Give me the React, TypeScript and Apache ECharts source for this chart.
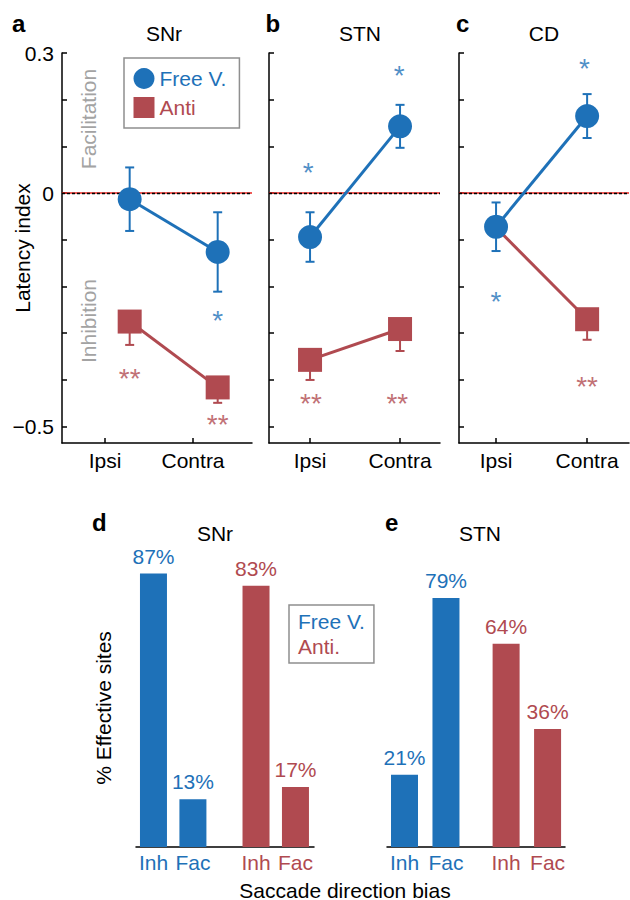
import React, { useEffect, useRef } from 'react';
import * as echarts from 'echarts';

const BLUE = '#1e71b8';
const RED = '#b04a50';
const GRAY_TEXT = '#a3a3a3';
const FONT = '"Liberation Sans", Arial, Helvetica, sans-serif';

// ---------- panels a–c : latency index ----------
const sideNames = ['Ipsi', 'Contra'];
const sideTicks = [1, 2];
const latencyTicks = [0.3, 0.2, 0.1, 0, -0.1, -0.2, -0.3, -0.4, -0.5];
const latencyTickLabels = [0.3, 0, -0.5];

// SNr
const xSNr = [1.28, 2.28];
const freeSNr = [-0.013, -0.126];
const freeErrSNr = [0.068, 0.085];
const antiSNr = [-0.275, -0.416];
const antiErrSNr = [0.05, 0.033];
const freeStarsSNr = [[2.28, -0.259]];
const antiStarsSNr = [[1.28, -0.385], [2.28, -0.482]];

// STN
const xSTN = [1, 2];
const freeSTN = [-0.094, 0.143];
const freeErrSTN = [0.053, 0.046];
const antiSTN = [-0.357, -0.291];
const antiErrSTN = [0.043, 0.047];
const freeStarsSTN = [[0.98, 0.058], [1.99, 0.265]];
const antiStarsSTN = [[1.01, -0.437], [1.97, -0.437]];

// CD (the Anti ipsi point lies under the Free V. marker)
const xCD = [1, 2];
const freeCD = [-0.072, 0.165];
const freeErrCD = [0.052, 0.047];
const antiCD = [-0.074, -0.27];
const antiErrCD = [0, 0.044];
const freeStarsCD = [[1, -0.22], [1.97, 0.28]];
const antiStarsCD = [[2, -0.402]];

// ---------- panels d–e : % effective sites ----------
const biasNames = ['Inh', 'Fac', 'Inh', 'Fac'];
const barSlotsSNr = [1, 2, 3.6, 4.6];
const barSlotsSTN = [1, 2, 3.45, 4.45];
const freeSitesSNr = [87, 13];
const antiSitesSNr = [83, 17];
const freeSitesSTN = [21, 79];
const antiSitesSTN = [64, 36];

// ---------- layout ----------
const topPanels = [
  { left: 62, width: 190, xmin: 0.511, xmax: 2.67, hiddenAnti: [] as number[], x: xSNr, free: freeSNr, freeErr: freeErrSNr, anti: antiSNr, antiErr: antiErrSNr, fs: freeStarsSNr, as: antiStarsSNr },
  { left: 269, width: 171, xmin: 0.544, xmax: 2.444, hiddenAnti: [] as number[], x: xSTN, free: freeSTN, freeErr: freeErrSTN, anti: antiSTN, antiErr: antiErrSTN, fs: freeStarsSTN, as: antiStarsSTN },
  { left: 459, width: 170, xmin: 0.593, xmax: 2.46, hiddenAnti: [0], x: xCD, free: freeCD, freeErr: freeErrCD, anti: antiCD, antiErr: antiErrCD, fs: freeStarsCD, as: antiStarsCD },
];
const bottomPanels = [
  { left: 136, width: 178, xmin: 0.557, xmax: 5.07, slots: barSlotsSNr, free: freeSitesSNr, anti: antiSitesSNr },
  { left: 387, width: 178, xmin: 0.578, xmax: 4.87, slots: barSlotsSTN, free: freeSitesSTN, anti: antiSitesSTN },
];

const axisLineStyle = { color: '#000', width: 1.5 };

function errorSeries(idx: number, xs: number[], ys: number[], errs: number[], color: string, both: boolean) {
  return {
    type: 'custom',
    xAxisIndex: idx,
    yAxisIndex: idx,
    z: 2,
    silent: true,
    data: xs.map((x, i) => [x, ys[i], errs[i]]),
    renderItem: (params: any, api: any) => {
      const x = api.value(0);
      const y = api.value(1);
      const e = api.value(2);
      if (!e) return { type: 'group', children: [] };
      const lo = api.coord([x, y - e]);
      const hi = api.coord([x, both ? y + e : y]);
      const cap = 4.5;
      const style = { stroke: color, lineWidth: 2 };
      const children: any[] = [
        { type: 'line', shape: { x1: lo[0], y1: lo[1], x2: hi[0], y2: hi[1] }, style },
        { type: 'line', shape: { x1: lo[0] - cap, y1: lo[1], x2: lo[0] + cap, y2: lo[1] }, style },
      ];
      if (both) {
        children.push({ type: 'line', shape: { x1: hi[0] - cap, y1: hi[1], x2: hi[0] + cap, y2: hi[1] }, style });
      }
      return { type: 'group', children };
    },
  };
}

function starSeries(idx: number, pts: number[][], text: string, color: string) {
  return {
    type: 'scatter',
    xAxisIndex: idx,
    yAxisIndex: idx,
    z: 5,
    silent: true,
    symbol: 'circle',
    symbolSize: 1,
    itemStyle: { color: 'rgba(0,0,0,0)' },
    data: pts,
    label: {
      show: true,
      position: 'inside',
      formatter: text,
      color,
      fontSize: 28,
      fontFamily: FONT,
      offset: [0, 6],
    },
  };
}

function txt(text: string, x: number, y: number, opts: any = {}) {
  return {
    type: 'text',
    x,
    y,
    rotation: opts.rotation || 0,
    silent: true,
    style: {
      text,
      fill: opts.color || '#000',
      fontSize: opts.fontSize || 21,
      fontWeight: opts.fontWeight || 'normal',
      fontFamily: FONT,
      align: opts.align || 'center',
      verticalAlign: 'middle',
    },
  };
}

function buildOption() {
  const grid: any[] = [];
  const xAxis: any[] = [];
  const yAxis: any[] = [];
  const series: any[] = [];

  topPanels.forEach((p, i) => {
    grid.push({ left: p.left, width: p.width, top: 53, height: 390, outerBoundsMode: 'none', containLabel: false });
    xAxis.push({
      type: 'value',
      gridIndex: i,
      min: p.xmin,
      max: p.xmax,
      splitLine: { show: false },
      axisLine: { show: true, onZero: false, lineStyle: axisLineStyle },
      axisTick: { show: true, inside: true, length: 5, customValues: sideTicks, lineStyle: axisLineStyle },
      axisLabel: {
        customValues: sideTicks,
        formatter: (v: number) => sideNames[sideTicks.findIndex((t) => Math.abs(t - v) < 1e-6)] || '',
        color: '#000',
        fontSize: 21,
        fontFamily: FONT,
        margin: 7,
      },
    });
    yAxis.push({
      type: 'value',
      gridIndex: i,
      min: -0.535,
      max: 0.3,
      splitLine: { show: false },
      axisLine: { show: true, onZero: false, lineStyle: axisLineStyle },
      axisTick: { show: true, inside: true, length: 5, customValues: latencyTicks, lineStyle: axisLineStyle },
      axisLabel: {
        show: i === 0,
        customValues: latencyTickLabels,
        formatter: (v: number) => (Math.abs(v) < 1e-9 ? '0' : v < 0 ? '\u2212' + String(Math.abs(v)) : String(v)),
        color: '#000',
        fontSize: 21,
        fontFamily: FONT,
        margin: 8,
      },
    });

    series.push(errorSeries(i, p.x, p.anti, p.antiErr, RED, false));
    series.push(errorSeries(i, p.x, p.free, p.freeErr, BLUE, true));
    series.push({
      type: 'line',
      name: 'Anti',
      xAxisIndex: i,
      yAxisIndex: i,
      z: 3,
      data: p.x.map((x, j) =>
        p.hiddenAnti.indexOf(j) >= 0 ? { value: [x, p.anti[j]], symbol: 'none' } : [x, p.anti[j]]
      ),
      symbol: 'rect',
      symbolSize: 24,
      lineStyle: { color: RED, width: 3 },
      itemStyle: { color: RED, borderWidth: 0 },
      markLine: {
        silent: true,
        z: 1,
        symbol: 'none',
        label: { show: false },
        data: [
          { yAxis: 0, lineStyle: { color: '#e8231f', width: 1.5, type: 'solid' } },
          { yAxis: 0, lineStyle: { color: '#000', width: 1.4, type: [3, 2] } },
        ],
      },
    });
    series.push({
      type: 'line',
      name: 'Free V.',
      xAxisIndex: i,
      yAxisIndex: i,
      z: 4,
      data: p.x.map((x, j) => [x, p.free[j]]),
      symbol: 'circle',
      symbolSize: 24,
      lineStyle: { color: BLUE, width: 3 },
      itemStyle: { color: BLUE, borderWidth: 0 },
    });
    series.push(starSeries(i, p.fs, '*', BLUE));
    series.push(starSeries(i, p.as, '**', RED));
  });

  bottomPanels.forEach((p, k) => {
    const i = k + 3;
    grid.push({ left: p.left, width: p.width, top: 534, height: 313, outerBoundsMode: 'none', containLabel: false });
    xAxis.push({
      type: 'value',
      gridIndex: i,
      min: p.xmin,
      max: p.xmax,
      splitLine: { show: false },
      axisLine: { show: true, onZero: false, lineStyle: axisLineStyle },
      axisTick: { show: false },
      axisLabel: {
        customValues: p.slots,
        formatter: (v: number) => biasNames[p.slots.findIndex((t) => Math.abs(t - v) < 1e-6)] || '',
        color: (v: any) => (Number(v) < p.slots[2] - 1e-6 ? BLUE : RED),
        fontSize: 21,
        fontFamily: FONT,
        margin: 5,
      },
    });
    yAxis.push({
      type: 'value',
      gridIndex: i,
      show: false,
      min: -2.7,
      max: 100,
      startValue: -2.7,
      splitLine: { show: false },
    });
    const mk = (name: string, xs: number[], vals: number[], color: string) => ({
      type: 'bar',
      name,
      xAxisIndex: i,
      yAxisIndex: i,
      barWidth: 27,
      barGap: '-100%',
      data: xs.map((x, j) => [x, vals[j]]),
      itemStyle: { color },
      label: {
        show: true,
        position: 'top',
        distance: 7,
        formatter: (q: any) => q.value[1] + '%',
        color,
        fontSize: 21,
        fontFamily: FONT,
      },
    });
    series.push(mk('Free V.', p.slots.slice(0, 2), p.free, BLUE));
    series.push(mk('Anti.', p.slots.slice(2, 4), p.anti, RED));
  });

  const graphic = [
    txt('a', 12, 23.7, { fontSize: 24, fontWeight: 'bold', align: 'left' }),
    txt('b', 265.5, 23.7, { fontSize: 24, fontWeight: 'bold', align: 'left' }),
    txt('c', 456, 23.7, { fontSize: 24, fontWeight: 'bold', align: 'left' }),
    txt('d', 92, 522.7, { fontSize: 24, fontWeight: 'bold', align: 'left' }),
    txt('e', 385, 522.7, { fontSize: 24, fontWeight: 'bold', align: 'left' }),
    txt('SNr', 164, 33),
    txt('STN', 360, 33),
    txt('CD', 544, 33),
    txt('SNr', 215, 533),
    txt('STN', 480, 533),
    txt('Latency index', 22.5, 248, { rotation: Math.PI / 2 }),
    txt('Facilitation', 88, 119, { rotation: Math.PI / 2, color: GRAY_TEXT }),
    txt('Inhibition', 88, 321, { rotation: Math.PI / 2, color: GRAY_TEXT }),
    txt('% Effective sites', 103, 708, { rotation: Math.PI / 2 }),
    txt('Saccade direction bias', 345, 890),
  ];

  return {
    animation: false,
    textStyle: { fontFamily: FONT },
    grid,
    xAxis,
    yAxis,
    series,
    graphic,
    legend: [
      {
        left: 124,
        top: 58,
        orient: 'vertical',
        padding: [10, 13, 10, 9.5],
        itemGap: 8,
        itemWidth: 21,
        itemHeight: 21,
        borderColor: '#8f8f8f',
        borderWidth: 1.5,
        borderRadius: 0,
        selectedMode: false,
        itemStyle: { borderWidth: 0 },
        textStyle: { fontSize: 21, fontFamily: FONT },
        data: [
          { name: 'Free V.', icon: 'circle', textStyle: { color: BLUE } },
          { name: 'Anti', icon: 'rect', textStyle: { color: RED } },
        ],
      },
      {
        left: 289,
        top: 605,
        orient: 'vertical',
        padding: [5, 9, 5, 4],
        itemGap: 2,
        itemWidth: 0,
        itemHeight: 23,
        borderColor: '#8f8f8f',
        borderWidth: 1.5,
        borderRadius: 0,
        selectedMode: false,
        textStyle: { fontSize: 21, fontFamily: FONT, lineHeight: 23 },
        data: [
          { name: 'Free V.', icon: 'none', textStyle: { color: BLUE } },
          { name: 'Anti.', icon: 'none', textStyle: { color: RED } },
        ],
      },
    ],
  };
}

export default function App() {
  const ref = useRef<HTMLDivElement>(null);
  useEffect(() => {
    if (!ref.current) return;
    const chart = echarts.init(ref.current, null, { renderer: 'svg' });
    chart.setOption(buildOption() as any);
    return () => chart.dispose();
  }, []);
  return (
    <div
      ref={ref}
      style={{ position: 'absolute', left: 0, top: 0, width: 630, height: 900, background: '#fff' }}
    />
  );
}
